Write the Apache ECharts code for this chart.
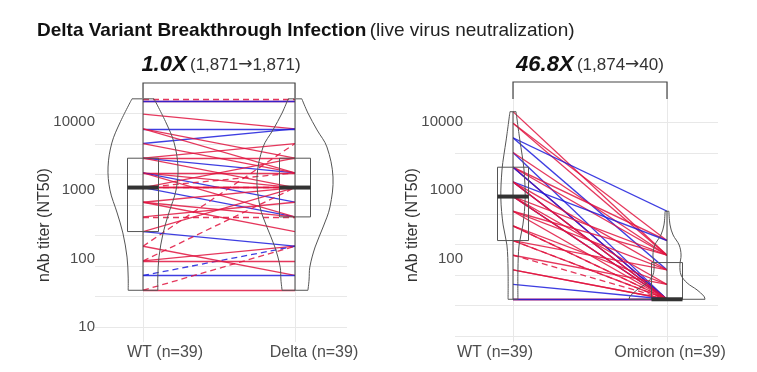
<!DOCTYPE html>
<html><head><meta charset="utf-8">
<script src="https://cdn.jsdelivr.net/npm/echarts@6/dist/echarts.min.js"></script>
<style>html,body{margin:0;padding:0;background:#fff}#c{width:757px;height:372px}</style>
</head><body><div id="c"></div>
<script>
// ================= DATA =================
const leftCats = ['WT (n=39)', 'Delta (n=39)'];
const rightCats = ['WT (n=39)', 'Omicron (n=39)'];
const leftTickLabels = [10, 100, 1000, 10000];
const rightTickLabels = [100, 1000, 10000];

// Delta breakthrough panel: paired titers (NT50)
const deltaWT    = [55000,51000,51000,30810,17710,10180,17710,17710,5850,5850,3360,3360,3360,1932,1932,1932,1932,1110,638,211,367,211,121,70,70,40,40,121,1110,5850,1932,638,10180,3360,367,121,1932,1110,5850];
const deltaDelta = [55000,51000,51000,17710,17710,17710,5850,3360,5850,3360,1932,3360,1110,638,3360,1932,1932,638,638,10180,211,70,211,211,70,211,40,1932,1932,1932,5850,1110,3360,638,1932,121,1932,367,10180];
const deltaColor = ['R','R','B','R','B','B','R','R','R','B','R','R','B','B','R','R','R','R','R','R','B','R','R','B','B','R','R','R','R','R','R','R','R','R','R','R','R','R','R'];
const deltaDash  = [1,0,0,0,0,0,0,0,0,0,0,0,0,0,1,1,0,0,1,1,0,0,0,1,0,1,0,1,0,0,0,0,0,0,0,0,0,0,0];

// Omicron panel: paired titers (NT50)
const omiWT  = [47500,30810,30810,17710,17710,10180,10180,5850,5850,5850,5850,5850,3360,3360,3360,3360,3360,1932,1932,1932,1932,1932,1110,1110,1110,638,638,638,367,367,367,211,211,121,121,70,40,40,40];
const omiOmi = [211,211,367,1110,121,40,211,367,40,40,211,40,40,367,40,121,40,211,40,40,70,40,211,40,121,40,70,40,40,121,40,40,70,40,40,40,40,40,40];
const omiColor = ['R','R','R','B','B','B','R','R','B','R','R','B','B','B','R','R','R','R','B','R','R','R','R','R','R','R','R','R','R','R','R','R','R','R','R','B','R','R','B'];
const omiDash  = [0,0,0,0,0,0,0,0,0,0,0,0,0,0,0,0,0,0,0,0,0,0,0,0,0,1,0,0,1,0,0,1,0,0,0,0,0,0,0];

// box statistics [min, Q1, median, Q3, max]
const boxDeltaWT = [40, 367, 1932, 5850, 55000];
const boxDelta   = [40, 638, 1932, 5850, 55000];
const boxOmiWT   = [40, 367, 1932, 5850, 47500];
const boxOmi     = [40, 40, 40, 160, 1110];

// violin density profiles (titer, relative density)
const vDeltaWT_y = [55000, 22100, 10400, 4200, 1760, 740, 348, 140, 66, 40];
const vDeltaWT_d = [0.29, 0.61, 0.82, 0.92, 0.87, 0.68, 0.53, 0.42, 0.39, 0.39];
const vDelta_y   = [55000, 32200, 17000, 8940, 2880, 927, 436, 205, 96, 59, 40];
const vDelta_d   = [0.18, 0.34, 0.58, 0.84, 1.0, 0.92, 0.74, 0.53, 0.39, 0.37, 0.34];
const vOmiWT_y   = [47500, 16300, 9270, 5260, 1830, 661, 310, 121, 40];
const vOmiWT_d   = [0.08, 0.18, 0.24, 0.29, 0.32, 0.26, 0.16, 0.13, 0.13];
const vOmi_y     = [1110, 661, 453, 310, 213, 146, 100, 74, 57, 45, 40];
const vOmi_d     = [0.05, 0.08, 0.16, 0.32, 0.37, 0.34, 0.37, 0.53, 0.79, 0.97, 1.0];

const titleBold = 'Delta Variant Breakthrough Infection';
const titleRest = '(live virus neutralization)';
const leftFold = '1.0X', leftFrom = '(1,871', leftTo = '1,871)';
const rightFold = '46.8X', rightFrom = '(1,874', rightTo = '40)';
const ARROW = '\u2192';
const yTitle = 'nAb titer (NT50)';

// ================= STYLE / LAYOUT =================
const FONT = '"Liberation Sans", Arial, Helvetica, sans-serif';
const RED = '#e0143f', BLUE = '#1c1cdc';
const GRID = '#e8e8e8';
const VIOLIN_HALF = 38, BOX_HALF = 15.5;

// helper: value at pixel y for an axis with value 10 at y10 and pxPerDec px/decade
function valAt(y, y10, pxPerDec) { return Math.pow(10, 1 + (y10 - y) / pxPerDec); }

const panels = [
  {cats: leftCats, ticks: leftTickLabels, gridL: 143, gridW: 152, top: 83, bottom: 342, y10: 327, ppd: 61,
   labY10: 327, labPpd: 68.33, labelMargin: 48,
   helperL: 95, helperW: 252,
   pads: [[0,0,0,44],[0,0,0,38]],
   a: deltaWT, b: deltaDelta, col: deltaColor, dash: deltaDash,
   groups: [{box: boxDeltaWT, vy: vDeltaWT_y, vd: vDeltaWT_d}, {box: boxDelta, vy: vDelta_y, vd: vDelta_d}],
   bracketY: [98, 83], fold: leftFold, from: leftFrom, to: leftTo, foldX: 221, yTitleX: 45},
  {cats: rightCats, ticks: rightTickLabels, gridL: 513, gridW: 154, top: 82, bottom: 342, y10: 336, ppd: 61,
   labY10: 327, labPpd: 68.33, labelMargin: 50,
   helperL: 455, helperW: 263,
   pads: [[0,36,0,0],[0,0,0,6]],
   a: omiWT, b: omiOmi, col: omiColor, dash: omiDash,
   groups: [{box: boxOmiWT, vy: vOmiWT_y, vd: vOmiWT_d}, {box: boxOmi, vy: vOmi_y, vd: vOmi_d}],
   bracketY: [99, 82], fold: rightFold, from: rightFrom, to: rightTo, foldX: 590, yTitleX: 413}
];

const option = {
  animation: false,
  backgroundColor: '#fff',
  textStyle: {fontFamily: FONT},
  grid: [], xAxis: [], yAxis: [], series: [], graphic: []
};

panels.forEach((p, pi) => {
  const gData = option.grid.length;
  option.grid.push({left: p.gridL, width: p.gridW, top: p.top, height: p.bottom - p.top, containLabel: false, outerBoundsMode: 'none'});
  const gHelp = option.grid.length;
  const hTop = p.y10 - 4 * p.ppd;
  option.grid.push({left: p.helperL, width: p.helperW, top: hTop, height: p.y10 - hTop, containLabel: false, outerBoundsMode: 'none'});

  const xData = option.xAxis.length;
  const rich = {};
  p.pads.forEach((pad, k) => { rich['p' + k] = {padding: pad, fontSize: 16, color: '#4d4d4d', fontFamily: FONT}; });
  option.xAxis.push({type: 'category', gridIndex: gData, data: p.cats, boundaryGap: false,
    axisLine: {show: false}, axisTick: {show: false},
    splitLine: {show: true, lineStyle: {color: GRID, width: 1}},
    axisLabel: {margin: 3, fontSize: 16, color: '#4d4d4d', interval: 0,
      formatter: (v, idx) => '{p' + idx + '|' + v + '}', rich: rich}});
  option.xAxis.push({type: 'value', gridIndex: gHelp, show: false, min: 0, max: 1});

  const yData = option.yAxis.length;
  option.yAxis.push({type: 'log', logBase: 10, gridIndex: gData, show: false,
    min: valAt(p.bottom, p.y10, p.ppd), max: valAt(p.top, p.y10, p.ppd)});
  const ticks = p.ticks;
  option.yAxis.push({type: 'log', logBase: 10, gridIndex: gData, position: 'left',
    min: valAt(p.bottom, p.labY10, p.labPpd), max: valAt(p.top, p.labY10, p.labPpd),
    axisLine: {show: false}, axisTick: {show: false}, splitLine: {show: false}, minorSplitLine: {show: false},
    axisLabel: {margin: p.labelMargin, fontSize: 15, color: '#4d4d4d', showMinLabel: true, showMaxLabel: true,
      formatter: v => { const r = Math.round(v); return (ticks.indexOf(r) >= 0 && Math.abs(v - r) < 1e-6 * r) ? String(r) : ''; }}});
  option.yAxis.push({type: 'value', gridIndex: gHelp, min: 1, max: 5, interval: 0.5,
    axisLine: {show: false}, axisTick: {show: false}, axisLabel: {show: false},
    splitLine: {show: true, showMaxLine: false, lineStyle: {color: GRID, width: 1}}});

  // paired lines
  option.series.push({type: 'lines', coordinateSystem: 'cartesian2d', xAxisIndex: xData, yAxisIndex: yData,
    silent: true, z: 2,
    data: p.a.map((v, i) => ({coords: [[0, v], [1, p.b[i]]],
      lineStyle: {color: p.col[i] === 'R' ? RED : BLUE, width: 1.3, opacity: 0.85,
                  type: p.dash[i] ? [6, 4] : 'solid'}}))});

  // violins + boxes
  option.series.push({type: 'custom', xAxisIndex: xData, yAxisIndex: yData, clip: false, silent: true, z: 3,
    data: p.groups.map((g, i) => [i, g.box[2]]),
    renderItem: (params, api) => {
      const i = params.dataIndex, g = p.groups[i];
      const cx = api.coord([i, g.box[2]])[0];
      const R = [], L = [];
      g.vy.forEach((v, k) => {
        const y = api.coord([i, v])[1];
        R.push([cx + g.vd[k] * VIOLIN_HALF, y]);
        L.push([cx - g.vd[k] * VIOLIN_HALF, y]);
      });
      const n = R.length - 1;
      const vs = {fill: 'none', stroke: '#555', lineWidth: 1};
      const yy = g.box.map(v => api.coord([i, v])[1]);
      return {type: 'group', children: [
        {type: 'polyline', shape: {points: R, smooth: 0.35}, style: vs},
        {type: 'polyline', shape: {points: L, smooth: 0.35}, style: vs},
        {type: 'line', shape: {x1: L[0][0], y1: L[0][1], x2: R[0][0], y2: R[0][1]}, style: vs},
        {type: 'line', shape: {x1: L[n][0], y1: L[n][1], x2: R[n][0], y2: R[n][1]}, style: vs},
        {type: 'line', shape: {x1: cx, y1: yy[4], x2: cx, y2: yy[0]}, style: {stroke: '#444', lineWidth: 1}},
        {type: 'rect', shape: {x: cx - BOX_HALF, y: yy[3], width: 2 * BOX_HALF, height: yy[1] - yy[3]},
         style: {fill: 'none', stroke: '#555', lineWidth: 1}},
        {type: 'line', shape: {x1: cx - BOX_HALF, y1: yy[2], x2: cx + BOX_HALF, y2: yy[2]}, style: {stroke: '#333', lineWidth: 4}}
      ]};
    }});

  // comparison bracket
  const b0 = valAt(p.bracketY[0], p.y10, p.ppd), b1 = valAt(p.bracketY[1], p.y10, p.ppd);
  option.series.push({type: 'lines', coordinateSystem: 'cartesian2d', xAxisIndex: xData, yAxisIndex: yData,
    polyline: true, silent: true, z: 4, clip: false,
    lineStyle: {color: '#444', width: 1.2, opacity: 1},
    data: [{coords: [[0, b0], [0, b1], [1, b1], [1, b0]]}]});

  option.graphic.push({type: 'text', x: p.foldX, y: 65, z: 10,
    style: {text: '{a|' + p.fold + '} {b|' + p.from + '}{r|' + ARROW + '}{b|' + p.to + '}', align: 'center', verticalAlign: 'middle',
      rich: {a: {fontSize: 22, fontWeight: 'bold', fontStyle: 'italic', fill: '#111', fontFamily: FONT},
             b: {fontSize: 17, fill: '#333', fontFamily: FONT},
             r: {fontSize: 17, fill: '#333', fontFamily: '"DejaVu Sans", sans-serif'}}}});
  option.graphic.push({type: 'text', x: p.yTitleX, y: 225, rotation: Math.PI / 2, z: 10,
    style: {text: yTitle, align: 'center', verticalAlign: 'middle', fontSize: 16, fill: '#333', fontFamily: FONT}});
});

option.graphic.push({type: 'text', x: 37, y: 31, z: 10,
  style: {text: '{b|' + titleBold + '} {n|' + titleRest + '}', verticalAlign: 'middle',
    rich: {b: {fontSize: 19, fontWeight: 'bold', fill: '#111', fontFamily: FONT},
           n: {fontSize: 19, fill: '#222', fontFamily: FONT}}}});

const chart = echarts.init(document.getElementById('c'), null, {renderer: 'canvas'});
chart.setOption(option);
</script></body></html>
